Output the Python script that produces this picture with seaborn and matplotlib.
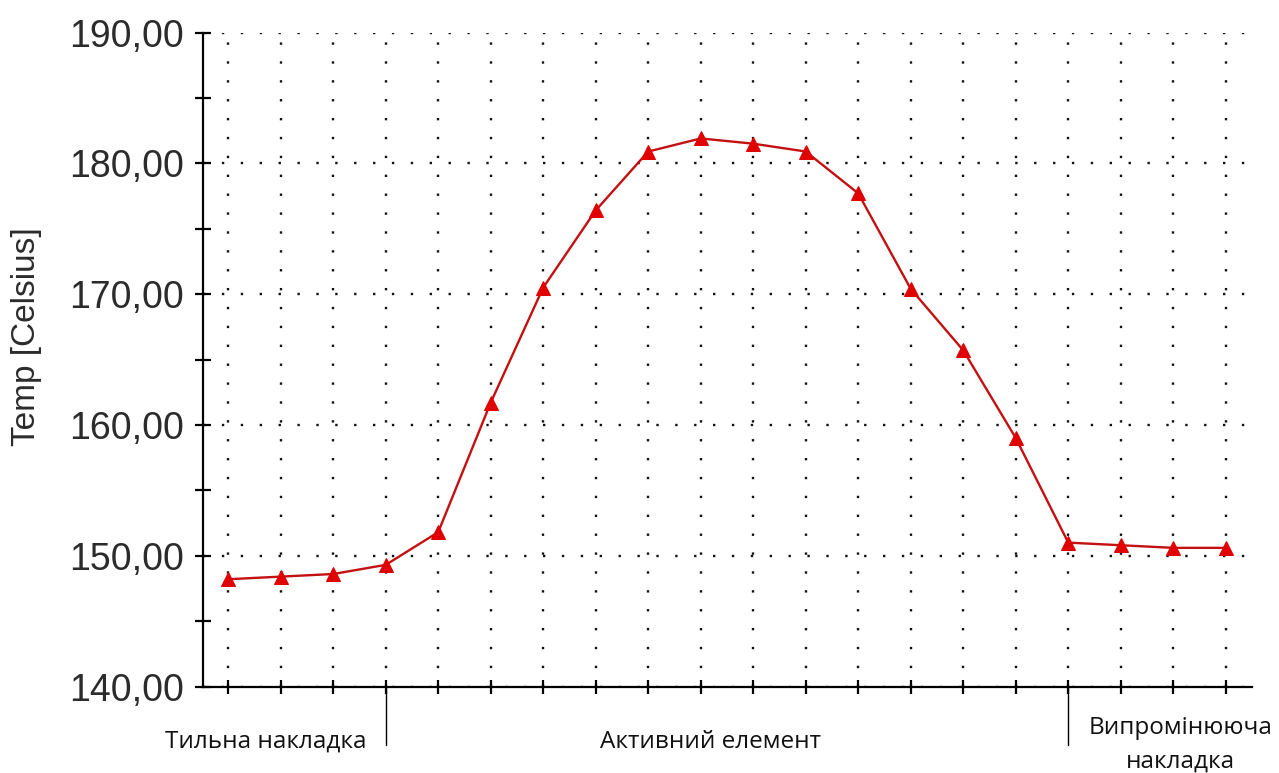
import matplotlib
matplotlib.use("Agg")
import matplotlib.pyplot as plt
import matplotlib.transforms as mtransforms
from matplotlib.ticker import MultipleLocator, FuncFormatter, FixedLocator
import pandas as pd
import seaborn as sns

# Temperature profile along the transducer stack (one value per node)
positions = list(range(20))
temperatures = [148.2, 148.4, 148.6, 149.3, 151.8, 161.7, 170.5, 176.4, 180.9, 181.9,
                181.5, 180.9, 177.7, 170.4, 165.7, 159.0, 151.0, 150.8, 150.6, 150.6]
y_ticks = [140, 150, 160, 170, 180, 190]
zone_labels = ["Тильна накладка", "Активний елемент", "Випромінююча", "накладка"]
zone_bounds = [3, 16]
y_label = "Temp [Celsius]"

sns.set_style("white")
plt.rcParams["font.family"] = ["Liberation Sans", "DejaVu Sans"]

fig = plt.figure(figsize=(12.79, 7.73), dpi=100)
ax = fig.add_axes([203 / 1279, 1 - 686.5 / 773, (1252 - 203) / 1279, (686.5 - 32.5) / 773])

df = pd.DataFrame({"pos": positions, "temp": temperatures})
sns.lineplot(data=df, x="pos", y="temp", ax=ax, color="#c41010", linewidth=1.7,
             marker="^", markersize=10, markeredgecolor="#e00000",
             markerfacecolor="#e00000", zorder=5)

ax.set_xlim(-0.48, 19.5)
ax.set_ylim(140, 190)
ax.set_xlabel("")
ax.set_ylabel("")

# dotted grid: every node vertically, every 10 degrees horizontally
ax.xaxis.set_major_locator(FixedLocator(positions))
ax.yaxis.set_major_locator(FixedLocator(y_ticks))
ax.yaxis.set_minor_locator(MultipleLocator(5))
ax.grid(True, which="major", color="#111111", linewidth=1.7,
        linestyle=(0, (1, 7.0)))
ax.set_axisbelow(True)

ax.yaxis.set_major_formatter(FuncFormatter(lambda v, p: f"{v:.2f}".replace(".", ",")))
ax.set_xticklabels([])

for side in ("top", "right"):
    ax.spines[side].set_visible(False)
for side in ("left", "bottom"):
    ax.spines[side].set_color("black")
    ax.spines[side].set_linewidth(1.6)

ax.tick_params(axis="x", which="major", direction="inout", length=10, width=1.6,
               color="black", bottom=True)
ax.tick_params(axis="y", which="both", direction="inout", length=11, width=1.6,
               color="black", left=True, labelsize=27, labelcolor="#2b2b2b", pad=8)

fig.text(27 / 1279, 1 - 337 / 773, y_label, rotation=90, ha="center", va="center",
         fontsize=24, color="#2b2b2b")

# zone separators and captions below the axis
trans = mtransforms.blended_transform_factory(ax.transData, ax.transAxes)
for b in zone_bounds:
    ax.plot([b, b], [0, -0.09], transform=trans, color="black", linewidth=1.0,
            clip_on=False)

cap_font = ["Open Sans", "DejaVu Sans"]
cap_kw = dict(transform=trans, ha="center", va="center", fontsize=17.5,
              family=cap_font, color="#111111")
ax.text(0.72, -0.085, zone_labels[0], **cap_kw)
ax.text(9.18, -0.085, zone_labels[1], **cap_kw)
ax.text(18.13, (686.5 - 728) / 654, zone_labels[2], **cap_kw)
ax.text(18.13, (686.5 - 762) / 654, zone_labels[3], **cap_kw)

fig.savefig("out.png", dpi=100, facecolor="white")
